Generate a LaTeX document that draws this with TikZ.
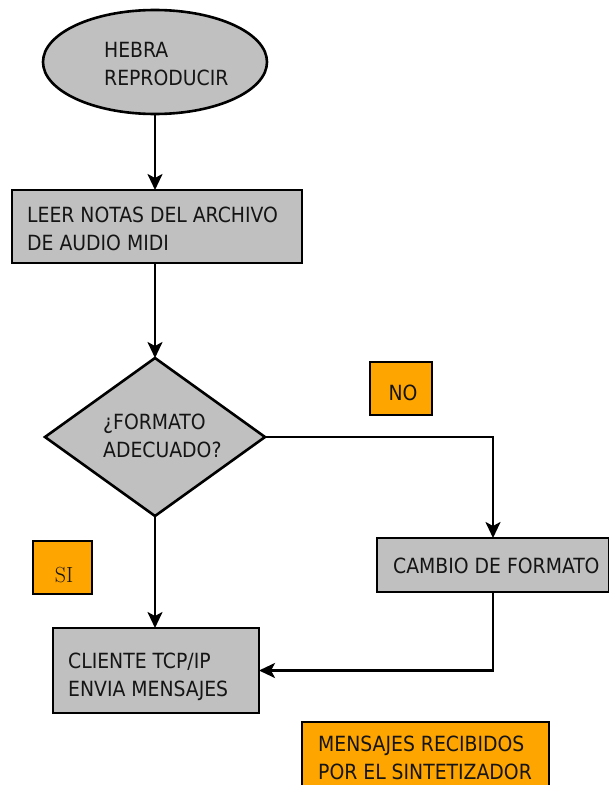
\documentclass[tikz,border=0pt]{standalone}
\usepackage{fontspec}
\usetikzlibrary{shapes.geometric,arrows.meta}
\newfontfamily\flowfont{DejaVu Sans Condensed}
\definecolor{boxgray}{HTML}{C0C0C0}
\definecolor{tagorange}{HTML}{FFA500}
\definecolor{ink}{HTML}{151515}
\begin{document}
\begin{tikzpicture}[x=1bp,y=-1bp,
  shapebox/.style={draw=black, line width=2.6bp, fill=boxgray, inner sep=0pt, outer sep=0pt},
  tagbox/.style={draw=black, line width=2.6bp, fill=tagorange, inner sep=0pt, outer sep=0pt},
  txt/.style={font=\flowfont\fontsize{21}{28}\selectfont, text=ink, align=left, inner sep=0pt, anchor=west},
  flow/.style={draw=black, line width=2.6bp, -{Stealth[length=16bp,width=15bp,inset=4bp]}},
  link/.style={draw=black, line width=2.6bp}]
\useasboundingbox (0,0) rectangle (609,785);

% start ellipse
\node[shapebox, ellipse, minimum width=224bp, minimum height=104bp] (start) at (155,62) {};
\node[txt] (starttxt) at (104,64) {HEBRA\\REPRODUCIR};

% read MIDI box
\node[shapebox, rectangle, minimum width=290bp, minimum height=73bp, anchor=north west] (read) at (12,190) {};
\node[txt] (readtxt) at (27,229) {LEER NOTAS DEL ARCHIVO\\DE AUDIO MIDI};

% decision
\node[shapebox, diamond, minimum width=220bp, minimum height=158bp] (check) at (155,437) {};
\node[txt] (checktxt) at (103,436) {¿FORMATO\\ADECUADO?};

% format change
\node[shapebox, rectangle, minimum width=232bp, minimum height=54bp] (change) at (493,565) {};
\node[txt] (changetxt) at (393,566) {CAMBIO DE FORMATO};

% TCP/IP client
\node[shapebox, rectangle, minimum width=206bp, minimum height=85bp, anchor=north west] (client) at (53,628) {};
\node[txt] (clienttxt) at (68,677) {CLIENTE TCP/IP\\ENVIA MENSAJES};

% tags
\node[tagbox, rectangle, minimum width=62bp, minimum height=53bp] (no) at (401,388.5) {};
\node[font=\flowfont\fontsize{21}{22}\selectfont, text=ink, inner sep=0pt] (notxt) at (403,393) {NO};
\node[tagbox, rectangle, minimum width=59bp, minimum height=53bp] (si) at (62.5,567.5) {};
\node[font=\fontsize{22}{22}\selectfont, text=ink, inner sep=0pt] (sitxt) at (64,575) {SI};
\node[tagbox, rectangle, minimum width=247bp, minimum height=70bp] (synth) at (425.5,757) {};
\node[txt] (synthtxt) at (318,758) {MENSAJES RECIBIDOS\\POR EL SINTETIZADOR};

% connectors along the main column
\coordinate (col) at (155,0);
\draw[flow] (start.south) -- (start.south |- read.north);
\draw[flow] (col |- read.south) -- (check.north);
\draw[flow] (check.south) -- (check.south |- client.north);
% NO branch and return path
\coordinate (noturn) at (change.north |- check.east);
\draw[flow] (check.east) -- (noturn) -- (change.north);
\coordinate (backturn) at (change.south |- client.east);
\draw[flow] (change.south) -- (backturn) -- (client.east);
\end{tikzpicture}
\end{document}
